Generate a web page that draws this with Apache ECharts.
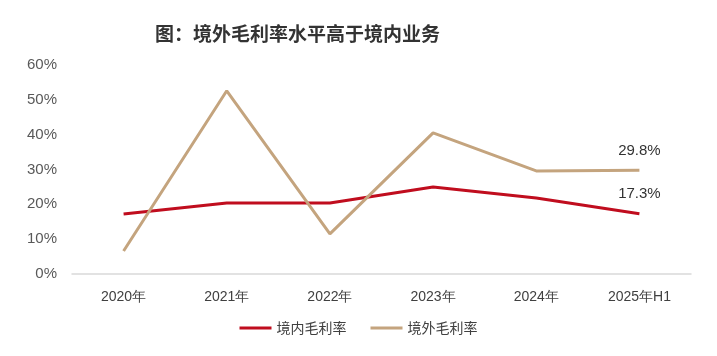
<!DOCTYPE html>
<html><head><meta charset="utf-8">
<script src="https://cdn.jsdelivr.net/npm/echarts@6/dist/echarts.min.js"></script>
<style>html,body{margin:0;padding:0;background:#fff;}#c{width:717px;height:356px;}</style>
</head><body><div id="c"></div>
<script>
const categories = ['2020年','2021年','2022年','2023年','2024年','2025年H1'];
const domestic = [17.2, 20.4, 20.4, 25.0, 21.8, 17.3];
const overseas = [6.6, 52.6, 11.5, 40.5, 29.6, 29.8];
const yTicks = [0, 10, 20, 30, 40, 50, 60];
const titleText = '图：境外毛利率水平高于境内业务';
const seriesNames = ['境内毛利率', '境外毛利率'];

const chart = echarts.init(document.getElementById('c'));
function lastLabel(params){ return params.dataIndex === categories.length - 1 ? Number(params.value).toFixed(1) + '%' : ''; }
chart.setOption({
  animation: false,
  title: { text: titleText, left: 150, top: 19, textStyle: { fontFamily: 'Noto Sans CJK SC', fontSize: 19, fontWeight: 'bold', color: '#333' } },
  legend: { bottom: 16, left: 'center', itemWidth: 32, itemHeight: 3, itemGap: 24, icon: 'rect',
    textStyle: { fontFamily: 'Noto Sans CJK SC', fontSize: 14, color: '#404040' } },
  grid: { left: 72, right: 26, top: 65, bottom: 82 },
  xAxis: { type: 'category', data: categories, boundaryGap: true,
    axisLine: { lineStyle: { color: '#d9d9d9', width: 1.5 } }, axisTick: { show: false },
    axisLabel: { fontFamily: 'Arial, Liberation Sans', fontSize: 14, color: '#404040', margin: 16 } },
  yAxis: { type: 'value', min: yTicks[0], max: yTicks[yTicks.length-1], interval: 10,
    axisLine: { show: false }, axisTick: { show: false }, splitLine: { show: false },
    axisLabel: { formatter: '{value}%', fontFamily: 'Arial, Liberation Sans', fontSize: 15, color: '#595959', margin: 15 } },
  series: [
    { name: seriesNames[0], type: 'line', data: domestic, symbol: 'circle', symbolSize: 0, showSymbol: true,
      lineStyle: { color: '#c00d1e', width: 3 }, itemStyle: { color: '#c00d1e' },
      label: { show: true, position: 'top', distance: 12, formatter: lastLabel, fontFamily: 'Arial, Liberation Sans', fontSize: 15, color: '#333' } },
    { name: seriesNames[1], type: 'line', data: overseas, symbol: 'circle', symbolSize: 0, showSymbol: true,
      lineStyle: { color: '#c4a47e', width: 3 }, itemStyle: { color: '#c4a47e' },
      label: { show: true, position: 'top', distance: 12, formatter: lastLabel, fontFamily: 'Arial, Liberation Sans', fontSize: 15, color: '#333' } }
  ]
});
</script></body></html>
